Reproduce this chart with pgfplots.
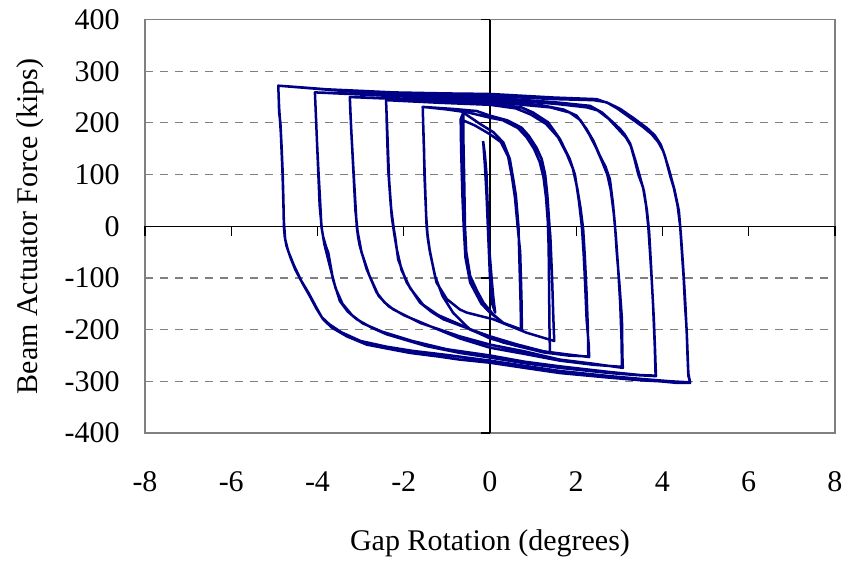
\documentclass[border=0pt]{standalone}
\usepackage{fontspec}
\setmainfont{Liberation Serif}
\usepackage{pgfplots}
\pgfplotsset{compat=1.18}
\definecolor{navy}{RGB}{0,0,135}
\definecolor{gridgray}{RGB}{128,128,128}
\begin{document}
\begin{tikzpicture}
\useasboundingbox (-72.5pt,-65pt) rectangle (350.5pt,216.5pt);
\begin{axis}[
 at={(0,0)}, anchor=south west, scale only axis, width=345pt, height=206.75pt,
 xmin=-8, xmax=8, ymin=-400, ymax=400,
 xtick={-8,-6,...,8}, ytick={-400,-300,...,400},
 xticklabels={-8,-6,-4,-2,0,2,4,6,8},
 yticklabels={-400,-300,-200,-100,0,100,200,300,400},
 major tick length=0pt,
 ymajorgrids, grid style={gridgray, line width=0.6pt, dash pattern=on 4pt off 3.5pt},
 axis line style={gridgray, line width=0.75pt},
 tick label style={font=\fontsize{15}{18}\selectfont},
 xticklabel style={anchor=north, inner sep=0pt, yshift=-19.3pt},
 yticklabel style={anchor=east, inner sep=0pt, xshift=-12.5pt},
 xlabel={Gap Rotation (degrees)}, ylabel={Beam Actuator Force (kips)},
 label style={font=\fontsize{15}{18}\selectfont},
 xlabel style={at={(axis description cs:0.5,-0.283)}, anchor=base, inner sep=0pt},
 ylabel style={at={(axis description cs:-0.1565,0.5)}, anchor=base, inner sep=0pt},
]
\end{axis}
\begin{axis}[
 at={(0,0)}, anchor=south west, scale only axis, width=345pt, height=206.75pt,
 xmin=-8, xmax=8, ymin=-400, ymax=400,
 axis x line=middle, axis y line=middle, axis line style={-, black, line width=0.6pt},
 xtick={-8,-6,...,8}, ytick={-400,-300,...,400}, xticklabels={}, yticklabels={},
 tick align=outside, major tick length=4.7pt, tick style={black, line width=0.6pt},
]
% loop 7
\addplot[navy, line width=1.25pt, line join=round] coordinates {
(-4.91,272) (-4.90,250) (-4.89,220) (-4.86,200) (-4.83,150) (-4.81,110) (-4.79,50) (-4.78,0) (-4.76,-20) (-4.72,-38) (-4.62,-62) (-4.52,-83) (-4.35,-110) (-4.18,-135) (-4.02,-160) (-3.87,-180) (-3.67,-196) (-3.32,-213) (-2.86,-229) (-2.30,-238) (-1.86,-245) (-1.20,-252) (-0.70,-258) (0,-264) (0.80,-274) (1.62,-284) (2.78,-293) (3.50,-298) (3.94,-300) (4.33,-303) (4.64,-303) (4.62,-295) (4.60,-290) (4.58,-250) (4.56,-200) (4.52,-150) (4.49,-99) (4.45,-50) (4.41,0) (4.35,40) (4.26,75) (4.18,97) (4.06,135) (3.96,158) (3.82,176) (3.64,190) (3.35,208) (3.02,227) (2.75,238) (2.47,246) (1.50,249) (0,256) (-1.00,257) (-2.24,259) (-3.00,262) (-3.79,265) (-4.41,269) (-4.91,272)
(-4.89,230) (-4.85,180) (-4.81,100) (-4.78,10) (-4.75,-25) (-4.68,-48) (-4.55,-75) (-4.38,-105) (-4.20,-130) (-4.04,-155) (-3.90,-176) (-3.72,-190) (-3.45,-205) (-3.00,-222) (-2.40,-233) (-1.80,-241) (-1.00,-249) (0,-260) (0.80,-270) (1.62,-280) (2.78,-290) (3.60,-296) (4.20,-300) (4.64,-302) (4.60,-285) (4.57,-220) (4.53,-150) (4.48,-80) (4.43,-20) (4.38,30) (4.28,70) (4.15,110) (4.02,145) (3.90,163) (3.75,178) (3.55,192) (3.25,210) (2.95,228) (2.70,240) (2.40,244) (1.50,246) (0,252) (-1.50,255) (-3.00,259) (-4.91,272)
};
% loop 6
\addplot[navy, line width=1.25pt, line join=round] coordinates {
(-4.06,259) (-4.05,240) (-4.04,220) (-4.01,160) (-3.98,110) (-3.94,50) (-3.91,0) (-3.87,-20) (-3.80,-40) (-3.75,-51) (-3.64,-103) (-3.48,-145) (-3.30,-165) (-3.09,-180) (-2.75,-196) (-2.40,-209) (-1.47,-232) (-0.70,-245) (0,-254) (0.80,-265) (1.62,-274) (2.78,-284) (3.40,-288) (3.85,-290) (3.84,-270) (3.83,-245) (3.80,-180) (3.75,-103) (3.71,-50) (3.67,0) (3.62,40) (3.55,75) (3.44,100) (3.35,130) (3.25,160) (3.12,178) (3.02,188) (2.80,205) (2.60,220) (2.32,233) (1.50,240) (0.50,246) (0,249) (-1.00,251) (-2.00,253) (-3.00,256) (-4.06,259)
(-4.03,200) (-3.99,120) (-3.95,40) (-3.90,-5) (-3.84,-35) (-3.72,-75) (-3.58,-120) (-3.42,-150) (-3.20,-172) (-2.95,-188) (-2.50,-204) (-1.80,-222) (-1.00,-238) (0,-250) (0.80,-262) (1.62,-271) (2.78,-282) (3.50,-288) (3.84,-289) (3.82,-230) (3.78,-150) (3.73,-70) (3.69,-10) (3.64,30) (3.57,68) (3.48,95) (3.38,125) (3.27,155) (3.15,172) (2.95,190) (2.75,208) (2.50,224) (2.25,230) (1.50,237) (0.50,243) (0,246) (-2.00,251) (-4.06,259)
};
% loop 5
\addplot[navy, line width=1.25pt, line join=round] coordinates {
(-3.25,250) (-3.24,225) (-3.21,175) (-3.16,100) (-3.09,0) (-3.06,-20) (-3.02,-38) (-2.86,-83) (-2.63,-128) (-2.45,-147) (-2.24,-161) (-1.62,-187) (-0.70,-213) (0,-229) (0.80,-242) (1.62,-258) (2.40,-266) (3.08,-274) (3.07,-250) (3.06,-180) (3.00,-110) (2.94,-51) (2.90,0) (2.85,45) (2.78,91) (2.68,115) (2.55,136) (2.40,165) (2.24,188) (2.01,214) (1.70,226) (1.20,234) (0.50,240) (0,243) (-1.00,245) (-2.00,247) (-3.25,250)
(-3.22,190) (-3.17,110) (-3.12,30) (-3.07,-10) (-2.98,-50) (-2.80,-95) (-2.58,-135) (-2.35,-155) (-2.00,-172) (-1.40,-193) (-0.70,-217) (0,-235) (0.80,-247) (1.62,-260) (2.40,-268) (3.06,-272) (3.05,-220) (3.02,-150) (2.97,-80) (2.92,-20) (2.87,25) (2.80,70) (2.72,100) (2.60,125) (2.46,152) (2.30,178) (2.10,205) (1.85,220) (1.40,230) (0.50,237) (0,240) (-1.50,244) (-3.25,250)
};
% loop 4
\addplot[navy, line width=1.25pt, line join=round] coordinates {
(-2.41,244) (-2.40,220) (-2.38,160) (-2.36,110) (-2.30,40) (-2.24,0) (-2.20,-20) (-2.13,-64) (-1.93,-109) (-1.62,-148) (-1.35,-166) (-1.08,-180) (-0.50,-198) (0,-213) (0.60,-228) (1.24,-242) (1.80,-248) (2.30,-253) (2.29,-230) (2.24,-180) (2.20,-100) (2.17,-51) (2.13,0) (2.06,50) (1.97,100) (1.85,130) (1.62,169) (1.35,201) (1.00,220) (0.73,230) (0,238) (-1.20,241) (-2.41,244)
(-2.38,180) (-2.34,90) (-2.28,20) (-2.22,-15) (-2.16,-45) (-2.05,-85) (-1.85,-120) (-1.55,-152) (-1.20,-172) (-0.70,-190) (0,-217) (0.60,-231) (1.24,-244) (1.80,-250) (2.28,-252) (2.27,-200) (2.24,-130) (2.20,-60) (2.16,-5) (2.10,35) (2.02,75) (1.92,112) (1.78,140) (1.58,172) (1.30,198) (0.95,216) (0.60,228) (0,235) (-1.20,239) (-2.41,244)
};
% loop 3
\addplot[navy, line width=1.25pt, line join=round] coordinates {
(-1.56,231) (-1.55,201) (-1.53,150) (-1.52,100) (-1.47,0) (-1.44,-25) (-1.39,-51) (-1.24,-109) (-1.00,-141) (-0.70,-161) (-0.54,-167) (0.08,-180) (0.85,-206) (1.49,-222) (1.47,-180) (1.44,-100) (1.40,-20) (1.38,0) (1.33,60) (1.28,100) (1.20,130) (1.08,152) (0.90,175) (0.73,191) (0.40,205) (0,214) (-0.31,223) (-0.85,227) (-1.56,231)
(-1.54,170) (-1.51,90) (-1.48,20) (-1.45,-15) (-1.40,-45) (-1.28,-95) (-1.10,-135) (-0.85,-168) (-0.46,-200) (0,-214) (0.31,-225) (0.90,-236) (1.39,-245) (1.38,-200) (1.37,-120) (1.36,-40) (1.34,10) (1.30,55) (1.24,95) (1.15,125) (1.02,150) (0.85,172) (0.65,190) (0.30,205) (0,210) (-0.50,220) (-1.00,226) (-1.56,231)
};
% loop 2
\addplot[navy, line width=1.25pt, line join=round] coordinates {
(-0.62,220) (-0.62,180) (-0.60,100) (-0.58,0) (-0.55,-50) (-0.46,-96) (-0.30,-125) (-0.15,-148) (0.08,-171) (0.31,-187) (0.72,-200) (0.71,-150) (0.68,-60) (0.66,0) (0.60,60) (0.54,91) (0.46,130) (0.31,162) (0.08,182) (-0.23,198) (-0.62,220)
(-0.68,207) (-0.67,150) (-0.64,60) (-0.61,0) (-0.57,-60) (-0.46,-109) (-0.20,-150) (0,-167) (0.31,-187) (0.74,-200) (0.73,-140) (0.70,-50) (0.64,0) (0.58,55) (0.51,95) (0.42,135) (0.25,163) (0,178) (-0.35,195) (-0.68,207)
};
% loop 1
\addplot[navy, line width=1.25pt, line join=round] coordinates {
(-0.16,165) (-0.12,140) (-0.08,100) (-0.05,30) (-0.02,-40) (0.04,-103) (0.08,-140) (0.12,-167) (0.05,-150) (0.00,-100) (-0.04,-20) (-0.08,60) (-0.12,120) (-0.15,155) (-0.16,165)
};
\end{axis}
\end{tikzpicture}
\end{document}
